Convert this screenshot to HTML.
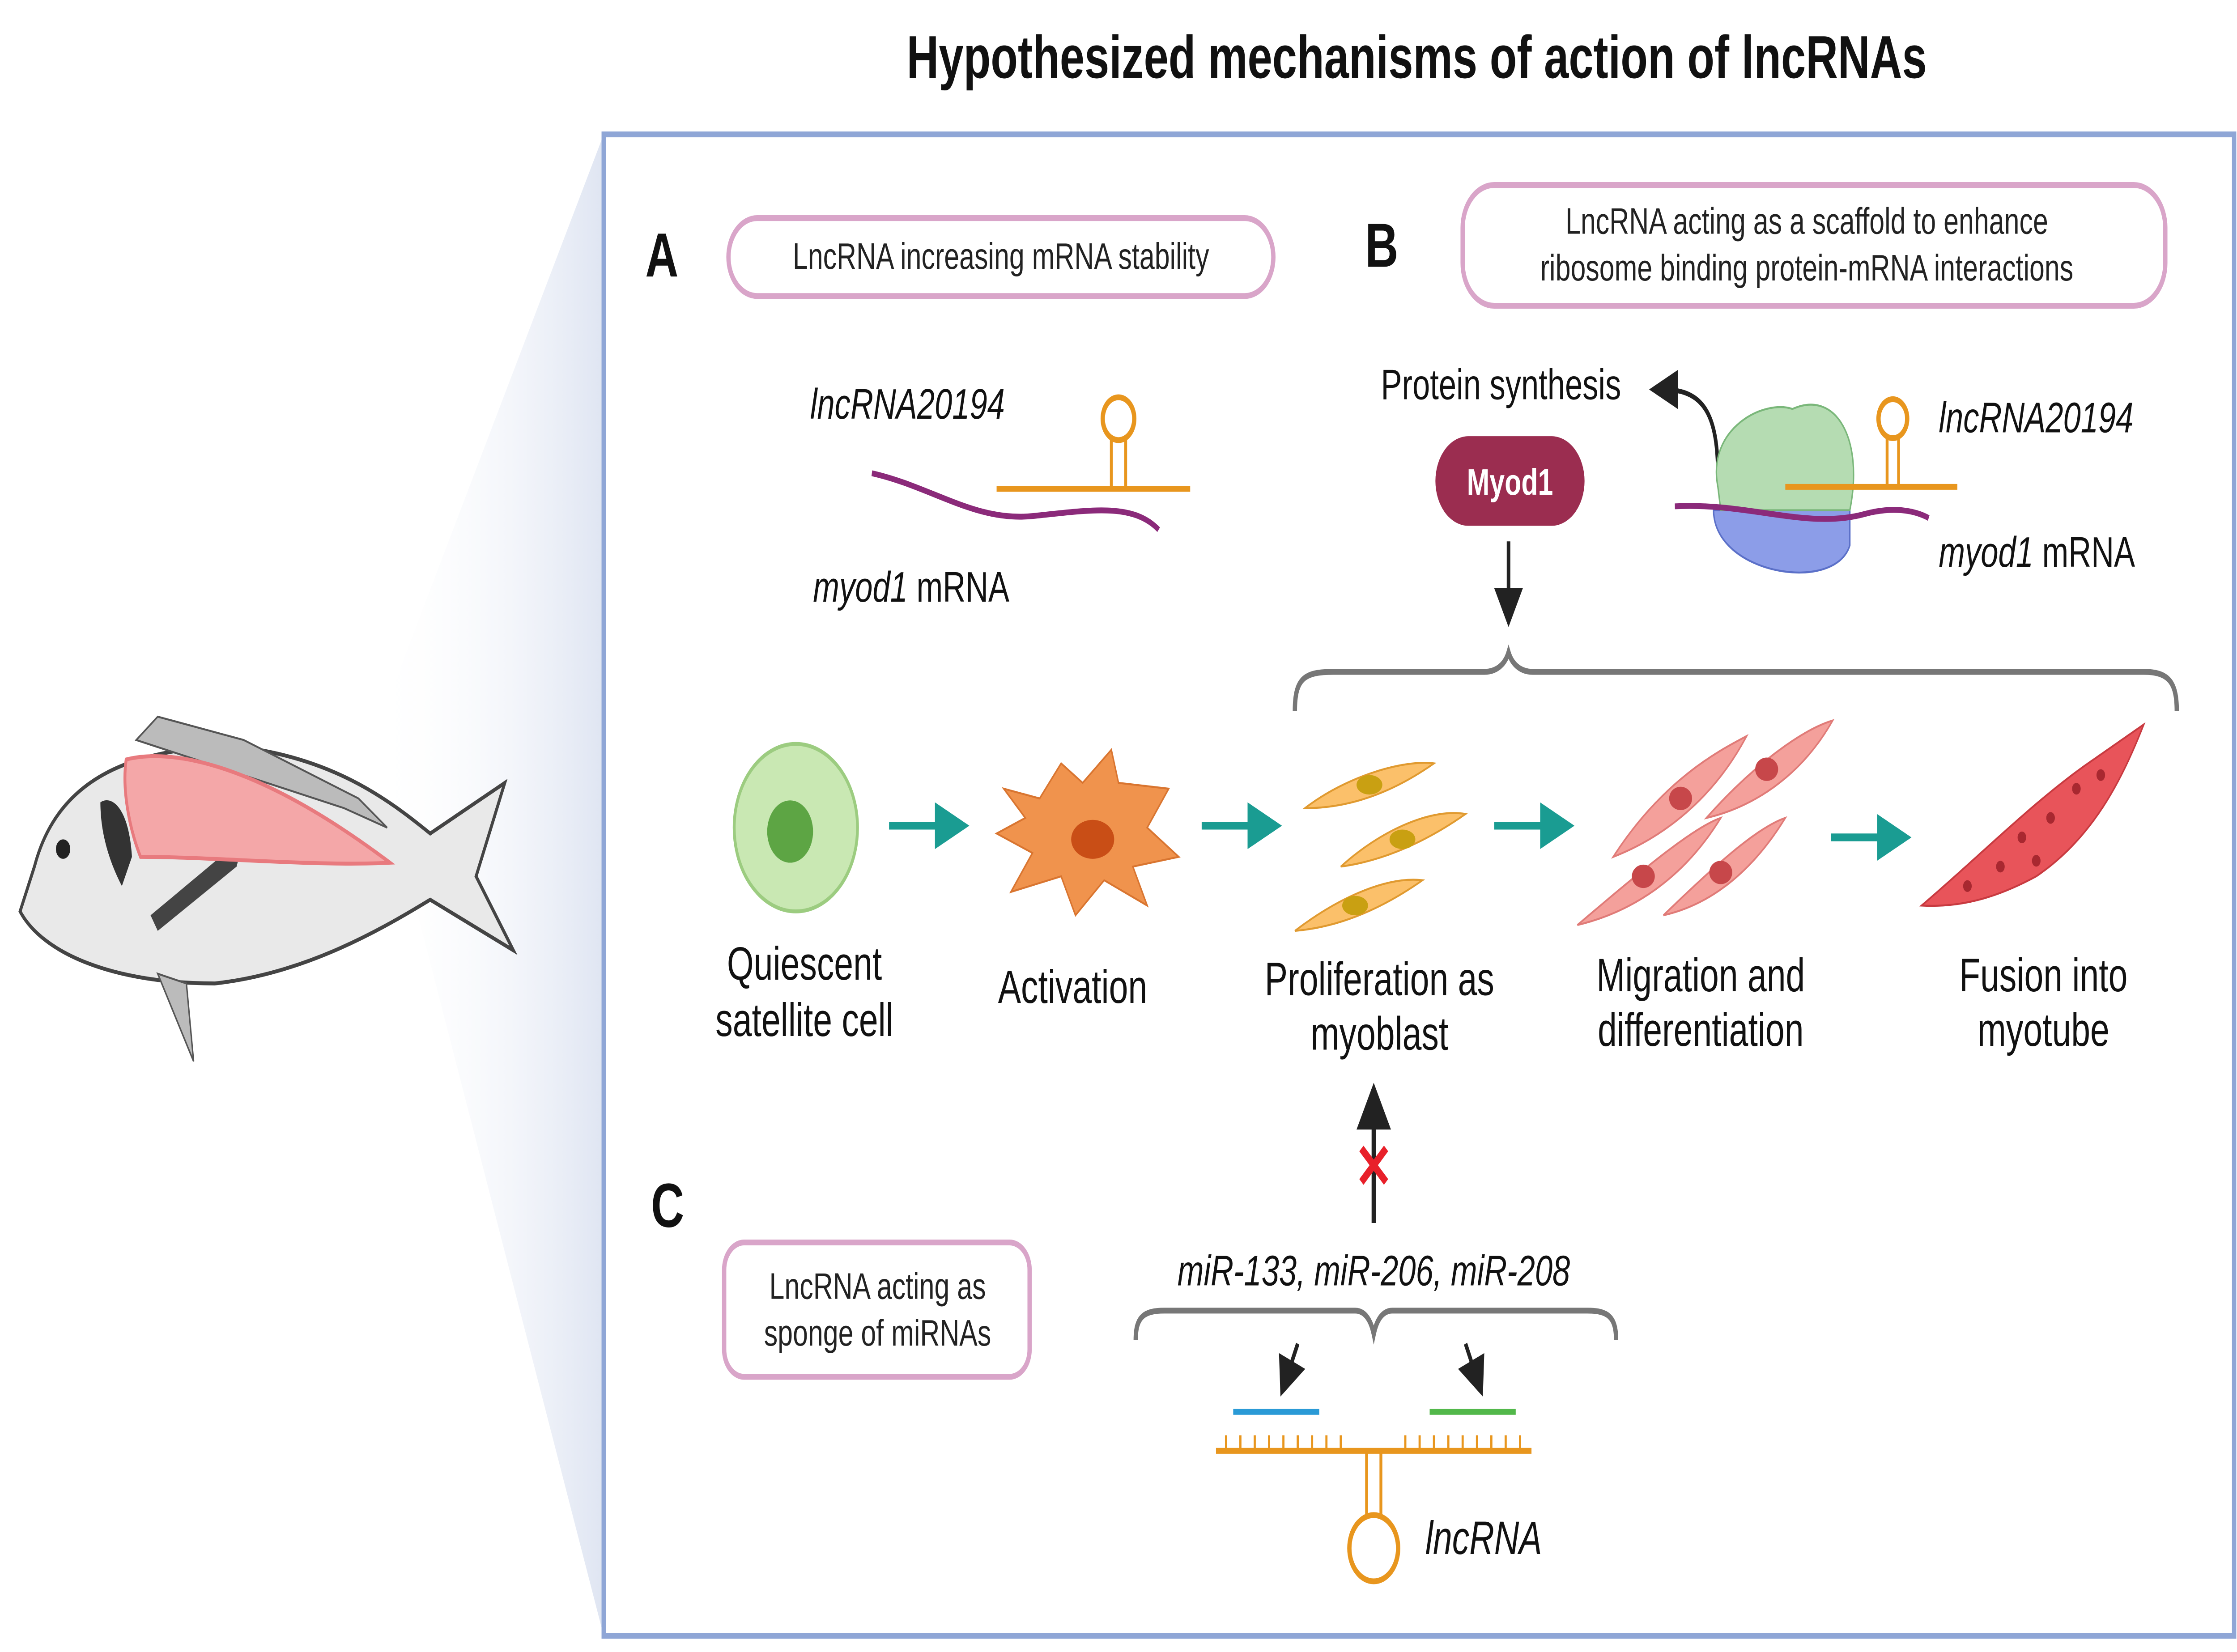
<!DOCTYPE html>
<html><head><meta charset="utf-8"><style>html,body{margin:0;padding:0;background:#fff;width:100%;height:100%;overflow:hidden}svg{display:block;position:fixed;left:0;top:0;width:100vw;height:100vh}</style></head>
<body>
<svg xmlns="http://www.w3.org/2000/svg" viewBox="0 0 1560 848.3" preserveAspectRatio="none" font-family="Liberation Sans, sans-serif">
<defs>
<linearGradient id="g" x1="0" y1="0" x2="1" y2="0"><stop offset="0" stop-color="#fff" stop-opacity="0"/><stop offset="1" stop-color="#dfe5f2"/></linearGradient>
<marker id="ab" markerWidth="8" markerHeight="8" refX="4" refY="4" orient="auto" markerUnits="strokeWidth"><path d="M0,0 L8,4 L0,8 z" fill="#222"/></marker>
<marker id="at" markerWidth="6" markerHeight="6" refX="2" refY="3" orient="auto" markerUnits="strokeWidth"><path d="M0,0 L6,3 L0,6 z" fill="#1a9c92"/></marker>
</defs>
<rect width="1560" height="848.3" fill="#fff"/>
<polygon points="260,380 421,69 421,840" fill="url(#g)"/>
<g>
<path d="M24,445 C40,400 90,385 160,383 C230,388 270,410 300,428 L352,402 L332,450 L358,488 L300,462 C260,480 210,500 150,505 C80,505 30,490 14,468 Z" fill="#e9e9e9" stroke="#444" stroke-width="2"/>
<path d="M95,380 L110,368 L170,380 L250,410 L270,425 L240,415 Z" fill="#bbb" stroke="#555"/>
<path d="M70,412 C78,408 90,415 92,440 L85,455 C78,445 70,430 70,412 Z" fill="#333"/>
<circle cx="44" cy="436" r="5" fill="#222"/>
<path d="M105,470 L170,430 L165,445 L110,478 Z" fill="#444"/>
<path d="M110,500 L135,545 L130,505 Z" fill="#bbb" stroke="#555"/>
<path d="M88,390 C120,384 180,392 272,443 C220,445 150,440 98,440 C90,425 85,405 88,390 Z" fill="#f4a7a8" stroke="#e87a7e" stroke-width="2"/>
</g>
<text x="988" y="40" font-size="31" font-weight="bold" text-anchor="middle" fill="#111">Hypothesized mechanisms of action of lncRNAs</text>
<rect x="421" y="69" width="1137" height="771" fill="none" stroke="#8fa6d6" stroke-width="3"/>
<g font-weight="bold" font-size="32" fill="#111"><text x="450" y="142">A</text><text x="952" y="137">B</text><text x="454" y="630">C</text></g>
<g fill="#fff" stroke="#d9a5c9" stroke-width="3">
<rect x="508" y="112" width="380" height="40" rx="20"/>
<rect x="1020" y="95" width="490" height="62" rx="22"/>
<rect x="505" y="638" width="213" height="69" rx="14"/>
</g>
<g font-size="19" fill="#222" text-anchor="middle">
<text x="698" y="138">LncRNA increasing mRNA stability</text>
<text x="1260" y="120">LncRNA acting as a scaffold to enhance</text>
<text x="1260" y="144">ribosome binding protein-mRNA interactions</text>
<text x="612" y="667">LncRNA acting as</text>
<text x="612" y="691">sponge of miRNAs</text>
</g>
<g font-size="22" fill="#111">
<text x="565" y="215" font-style="italic">lncRNA20194</text>
<text x="567" y="309"><tspan font-style="italic">myod1</tspan> mRNA</text>
<text x="963" y="205">Protein synthesis</text>
<text x="1352" y="222" font-style="italic">lncRNA20194</text>
<text x="1352" y="291"><tspan font-style="italic">myod1</tspan> mRNA</text>
<text x="958" y="660" text-anchor="middle" font-style="italic">miR-133, miR-206, miR-208</text>
<text x="994" y="798" font-style="italic" font-size="24">lncRNA</text>
</g>
<path d="M608,243 C650,250 680,268 720,265 C760,262 790,258 808,272" fill="none" stroke="#8b2a7a" stroke-width="3"/>
<path d="M695,251 L830,251" stroke="#e8961e" stroke-width="3"/>
<path d="M775,251 L775,225 M785,251 L785,225" stroke="#e8961e" stroke-width="2"/>
<circle cx="780" cy="215" r="11" fill="none" stroke="#e8961e" stroke-width="3"/>
<path d="M1198,245 C1198,215 1190,200 1160,200" fill="none" stroke="#222" stroke-width="2.5" marker-end="url(#ab)"/>
<path d="M1195,262 C1195,295 1280,305 1290,280 L1290,262 Z" fill="#8c9de8" stroke="#5b70c8"/>
<path d="M1198,250 C1190,220 1230,205 1250,210 C1280,200 1300,225 1290,262 L1200,262 Z" fill="#b5dcb2" stroke="#7ab77a"/>
<path d="M1168,260 C1220,258 1260,272 1300,264 C1320,260 1335,262 1345,266" fill="none" stroke="#8b2a7a" stroke-width="3"/>
<path d="M1245,250 L1365,250" stroke="#e8961e" stroke-width="3"/>
<circle cx="1320" cy="215" r="10" fill="none" stroke="#e8961e" stroke-width="3"/>
<path d="M1316,225 L1316,250 M1324,225 L1324,250" stroke="#e8961e" stroke-width="2"/>
<rect x="1001" y="224" width="104" height="46" rx="23" fill="#9b2d50"/>
<text x="1053" y="254" font-size="19" font-weight="bold" fill="#fff" text-anchor="middle">Myod1</text>
<line x1="1052" y1="278" x2="1052" y2="312" stroke="#222" stroke-width="2.5" marker-end="url(#ab)"/>
<path d="M903,365 C903,348 910,345 930,345 L1035,345 C1045,345 1050,340 1052,335 C1054,340 1059,345 1069,345 L1495,345 C1512,345 1518,350 1518,365" fill="none" stroke="#777" stroke-width="3"/>
<circle cx="555" cy="425" r="43" fill="#c9e8b3" stroke="#9ccc80" stroke-width="2"/>
<circle cx="551" cy="427" r="16" fill="#5da544"/>
<path d="M700,405 L725,410 L740,392 L755,402 L775,385 L780,402 L815,405 L800,425 L822,440 L790,445 L800,465 L770,452 L750,470 L740,450 L705,458 L720,438 L695,428 L715,420 Z" fill="#f0934d" stroke="#d97530"/>
<ellipse cx="762" cy="431" rx="15" ry="10" fill="#c94e16"/>
<g fill="#fbc06a" stroke="#e09a30">
<path d="M910,415 C940,398 980,390 1000,392 C975,405 945,415 910,415 Z"/>
<path d="M935,445 C965,425 1000,415 1022,418 C995,432 965,442 935,445 Z"/>
<path d="M903,478 C935,460 968,450 992,452 C965,466 935,476 903,478 Z"/>
</g>
<g fill="#c9a012"><ellipse cx="955" cy="403" rx="9" ry="5"/><ellipse cx="978" cy="431" rx="9" ry="5"/><ellipse cx="945" cy="465" rx="9" ry="5"/></g>
<g fill="#f4a09b" stroke="#e07b78">
<path d="M1125,440 C1160,400 1200,385 1218,378 C1195,410 1160,430 1125,440 Z"/>
<path d="M1190,420 C1220,395 1255,375 1278,370 C1255,400 1220,415 1190,420 Z"/>
<path d="M1100,475 C1140,450 1180,425 1200,420 C1175,450 1140,468 1100,475 Z"/>
<path d="M1160,470 C1195,445 1225,425 1245,420 C1220,450 1190,465 1160,470 Z"/>
</g>
<g fill="#c7474a"><ellipse cx="1172" cy="410" rx="8" ry="6"/><ellipse cx="1232" cy="395" rx="8" ry="6"/><ellipse cx="1146" cy="450" rx="8" ry="6"/><ellipse cx="1200" cy="448" rx="8" ry="6"/></g>
<path d="M1340,465 C1380,440 1420,410 1460,390 L1495,372 C1480,400 1460,430 1420,450 C1390,462 1365,466 1340,465 Z" fill="#e8545a" stroke="#c83a40"/>
<g fill="#a82830"><circle cx="1372" cy="455" r="3"/><circle cx="1395" cy="445" r="3"/><circle cx="1410" cy="430" r="3"/><circle cx="1430" cy="420" r="3"/><circle cx="1448" cy="405" r="3"/><circle cx="1420" cy="442" r="3"/><circle cx="1465" cy="398" r="3"/></g>
<g stroke="#1a9c92" stroke-width="4" marker-end="url(#at)">
<line x1="620" y1="424" x2="660" y2="424"/><line x1="838" y1="424" x2="878" y2="424"/><line x1="1042" y1="424" x2="1082" y2="424"/><line x1="1277" y1="430" x2="1317" y2="430"/>
</g>
<g font-size="24" fill="#111" text-anchor="middle">
<text x="561" y="503">Quiescent</text><text x="561" y="532">satellite cell</text>
<text x="748" y="515">Activation</text>
<text x="962" y="511">Proliferation as</text><text x="962" y="539">myoblast</text>
<text x="1186" y="509">Migration and</text><text x="1186" y="537">differentiation</text>
<text x="1425" y="509">Fusion into</text><text x="1425" y="537">myotube</text>
</g>
<line x1="958" y1="628" x2="958" y2="568" stroke="#222" stroke-width="3" marker-end="url(#ab)"/>
<text x="958" y="610" font-size="32" font-weight="bold" fill="#e8202a" text-anchor="middle">✕</text>
<path d="M792,688 C792,676 798,673 812,673 L945,673 C952,673 956,678 958,685 C960,678 964,673 971,673 L1107,673 C1121,673 1127,676 1127,688" fill="none" stroke="#777" stroke-width="3"/>
<line x1="905" y1="690" x2="897" y2="708" stroke="#222" stroke-width="2.5" marker-end="url(#ab)"/>
<line x1="1022" y1="690" x2="1030" y2="708" stroke="#222" stroke-width="2.5" marker-end="url(#ab)"/>
<path d="M848,745 L1068,745" stroke="#e8961e" stroke-width="3"/>
<path d="M953,745 L953,780 M963,745 L963,780" stroke="#e8961e" stroke-width="2"/>
<circle cx="958" cy="795" r="17" fill="none" stroke="#e8961e" stroke-width="3"/>
<path d="M860,725 L920,725" stroke="#2a9ad6" stroke-width="3"/>
<path d="M997,725 L1057,725" stroke="#52b84a" stroke-width="3"/>
<g stroke="#e8961e" stroke-width="1.5"><path d="M855,745v-8M865,745v-8M875,745v-8M885,745v-8M895,745v-8M905,745v-8M915,745v-8M925,745v-8M935,745v-8M980,745v-8M990,745v-8M1000,745v-8M1010,745v-8M1020,745v-8M1030,745v-8M1040,745v-8M1050,745v-8M1060,745v-8"/></g>
</svg>
</body></html>
